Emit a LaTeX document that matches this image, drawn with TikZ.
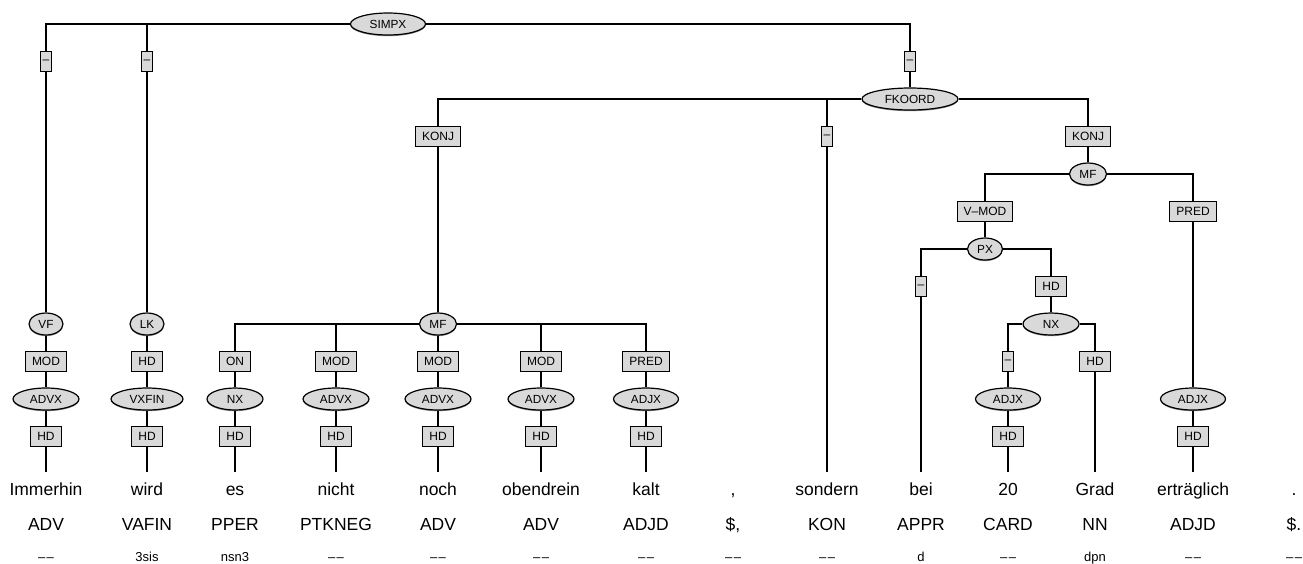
\documentclass[tikz,border=0pt]{standalone}
\usepackage{fontspec}
\setmainfont{Liberation Sans}
\usetikzlibrary{shapes.geometric,shadows}
\definecolor{boxgray}{RGB}{217,217,217}
\newcommand\nomorph{\textendash\kern1.5pt\textendash}
\tikzset{
  fnbox/.style={draw,fill=boxgray,line width=1.2pt,inner xsep=6.5pt,inner ysep=0pt,
    minimum height=20pt,font=\fontsize{12}{14}\selectfont},
  blankbox/.style={fnbox,inner xsep=2.5pt},
  catnode/.style={ellipse,draw,fill=boxgray,line width=1.2pt,inner sep=0pt,minimum height=22pt,
    minimum width=#1,font=\fontsize{11.8}{13}\selectfont,
    drop shadow={shadow xshift=0pt,shadow yshift=-1.2pt,fill=black,opacity=.45}},
  catnode/.default=36pt,
  wordtext/.style={anchor=base,font=\fontsize{17.5}{20}\selectfont,text height=13pt,text depth=4pt,inner ysep=9pt},
  tagtext/.style={anchor=base,font=\fontsize{17.5}{20}\selectfont},
  morphtext/.style={anchor=base,font=\fontsize{13}{15}\selectfont}
}
\begin{document}
\begin{tikzpicture}[x=1pt,y=-1pt,line width=1.2pt]
  \useasboundingbox (0,0) rectangle (1303,563);
  % tokens
  \node[wordtext] (w1) at (46,495) {Immerhin}; \node[tagtext] (t1) at (46,530) {ADV}; \node[morphtext] (m1) at (46,561) {\nomorph};
  \node[wordtext] (w2) at (147,495) {wird}; \node[tagtext] (t2) at (147,530) {VAFIN}; \node[morphtext] (m2) at (147,561) {3sis};
  \node[wordtext] (w3) at (235,495) {es}; \node[tagtext] (t3) at (235,530) {PPER}; \node[morphtext] (m3) at (235,561) {nsn3};
  \node[wordtext] (w4) at (336,495) {nicht}; \node[tagtext] (t4) at (336,530) {PTKNEG}; \node[morphtext] (m4) at (336,561) {\nomorph};
  \node[wordtext] (w5) at (438,495) {noch}; \node[tagtext] (t5) at (438,530) {ADV}; \node[morphtext] (m5) at (438,561) {\nomorph};
  \node[wordtext] (w6) at (541,495) {obendrein}; \node[tagtext] (t6) at (541,530) {ADV}; \node[morphtext] (m6) at (541,561) {\nomorph};
  \node[wordtext] (w7) at (646,495) {kalt}; \node[tagtext] (t7) at (646,530) {ADJD}; \node[morphtext] (m7) at (646,561) {\nomorph};
  \node[wordtext] (w8) at (733,495) {,}; \node[tagtext] (t8) at (733,530) {\$,}; \node[morphtext] (m8) at (733,561) {\nomorph};
  \node[wordtext] (w9) at (827,495) {sondern}; \node[tagtext] (t9) at (827,530) {KON}; \node[morphtext] (m9) at (827,561) {\nomorph};
  \node[wordtext] (w10) at (921,495) {bei}; \node[tagtext] (t10) at (921,530) {APPR}; \node[morphtext] (m10) at (921,561) {d};
  \node[wordtext] (w11) at (1008,495) {20}; \node[tagtext] (t11) at (1008,530) {CARD}; \node[morphtext] (m11) at (1008,561) {\nomorph};
  \node[wordtext] (w12) at (1095,495) {Grad}; \node[tagtext] (t12) at (1095,530) {NN}; \node[morphtext] (m12) at (1095,561) {dpn};
  \node[wordtext] (w13) at (1193,495) {erträglich}; \node[tagtext] (t13) at (1193,530) {ADJD}; \node[morphtext] (m13) at (1193,561) {\nomorph};
  \node[wordtext] (w14) at (1294,495) {.}; \node[tagtext] (t14) at (1294,530) {\$.}; \node[morphtext] (m14) at (1294,561) {\nomorph};

  % upper tree
  \node[catnode=75pt] (simpx) at (388,24) {SIMPX};
  \node[blankbox] (e1) at (46,61.5) {\textendash}; \node[blankbox] (e2) at (147,61.5) {\textendash};
  \node[blankbox] (e3) at (910,61.5) {\textendash};
  \draw (simpx) -| (e1); \draw (simpx) -| (e2); \draw (simpx) -| (e3);
  \node[catnode=96pt] (fkoord) at (910,99) {FKOORD}; \draw (e3) -- (fkoord);
  \node[fnbox] (konj1) at (438,136.5) {KONJ}; \node[blankbox] (e4) at (827,136.5) {\textendash};
  \node[fnbox] (konj2) at (1088,136.5) {KONJ};
  \draw (fkoord) -| (konj1); \draw (fkoord) -| (e4); \draw (fkoord) -| (konj2);
  \draw (e4) -- (w9);

  % VF and LK
  \begin{scope}[xshift=46pt]
    \node[catnode=34pt] (vf) at (0,324) {VF}; \node[fnbox] (mod1) at (0,361.5) {MOD};
    \node[catnode=66pt] (advx1) at (0,399) {ADVX}; \node[fnbox] (hd1) at (0,436.5) {HD};
    \draw (e1) -- (vf) -- (mod1) -- (advx1) -- (hd1) -- (w1);
  \end{scope}
  \begin{scope}[xshift=147pt]
    \node[catnode=34pt] (lk) at (0,324) {LK}; \node[fnbox] (hd2a) at (0,361.5) {HD};
    \node[catnode=72pt] (vxfin) at (0,399) {VXFIN}; \node[fnbox] (hd2) at (0,436.5) {HD};
    \draw (e2) -- (lk) -- (hd2a) -- (vxfin) -- (hd2) -- (w2);
  \end{scope}

  % first conjunct
  \node[catnode=37pt] (mf1) at (438,324) {MF}; \draw (konj1) -- (mf1);
  \begin{scope}[xshift=235pt]
    \node[fnbox] (on) at (0,361.5) {ON}; \node[catnode=56pt] (nx1) at (0,399) {NX}; \node[fnbox] (hd3) at (0,436.5) {HD};
    \draw (mf1) -| (on); \draw (on) -- (nx1) -- (hd3) -- (w3);
  \end{scope}
  \begin{scope}[xshift=336pt]
    \node[fnbox] (mod4) at (0,361.5) {MOD}; \node[catnode=66pt] (advx4) at (0,399) {ADVX}; \node[fnbox] (hd4) at (0,436.5) {HD};
    \draw (mf1) -| (mod4); \draw (mod4) -- (advx4) -- (hd4) -- (w4);
  \end{scope}
  \begin{scope}[xshift=438pt]
    \node[fnbox] (mod5) at (0,361.5) {MOD}; \node[catnode=66pt] (advx5) at (0,399) {ADVX}; \node[fnbox] (hd5) at (0,436.5) {HD};
    \draw (mf1) -- (mod5) -- (advx5) -- (hd5) -- (w5);
  \end{scope}
  \begin{scope}[xshift=541pt]
    \node[fnbox] (mod6) at (0,361.5) {MOD}; \node[catnode=66pt] (advx6) at (0,399) {ADVX}; \node[fnbox] (hd6) at (0,436.5) {HD};
    \draw (mf1) -| (mod6); \draw (mod6) -- (advx6) -- (hd6) -- (w6);
  \end{scope}
  \begin{scope}[xshift=646pt]
    \node[fnbox] (pred7) at (0,361.5) {PRED}; \node[catnode=65pt] (adjx7) at (0,399) {ADJX}; \node[fnbox] (hd7) at (0,436.5) {HD};
    \draw (mf1) -| (pred7); \draw (pred7) -- (adjx7) -- (hd7) -- (w7);
  \end{scope}

  % second conjunct
  \node[catnode=37pt] (mf2) at (1088,174) {MF}; \draw (konj2) -- (mf2);
  \node[fnbox] (vmod) at (985,211.5) {V\textendash MOD}; \node[fnbox] (pred13) at (1193,211.5) {PRED};
  \draw (mf2) -| (vmod); \draw (mf2) -| (pred13);
  \node[catnode=35pt] (px) at (985,249) {PX}; \draw (vmod) -- (px);
  \node[blankbox] (e5) at (921,286.5) {\textendash}; \node[fnbox] (hdpx) at (1051,286.5) {HD};
  \draw (px) -| (e5); \draw (px) -| (hdpx); \draw (e5) -- (w10);
  \node[catnode=56pt] (nx2) at (1051,324) {NX}; \draw (hdpx) -- (nx2);
  \node[blankbox] (e6) at (1008,361.5) {\textendash}; \node[fnbox] (hd12) at (1095,361.5) {HD};
  \draw (nx2) -| (e6); \draw (nx2) -| (hd12); \draw (hd12) -- (w12);
  \node[catnode=65pt] (adjx11) at (1008,399) {ADJX}; \node[fnbox] (hd11) at (1008,436.5) {HD};
  \draw (e6) -- (adjx11) -- (hd11) -- (w11);
  \node[catnode=65pt] (adjx13) at (1193,399) {ADJX}; \node[fnbox] (hd13) at (1193,436.5) {HD};
  \draw (pred13) -- (adjx13) -- (hd13) -- (w13);
\end{tikzpicture}
\end{document}
